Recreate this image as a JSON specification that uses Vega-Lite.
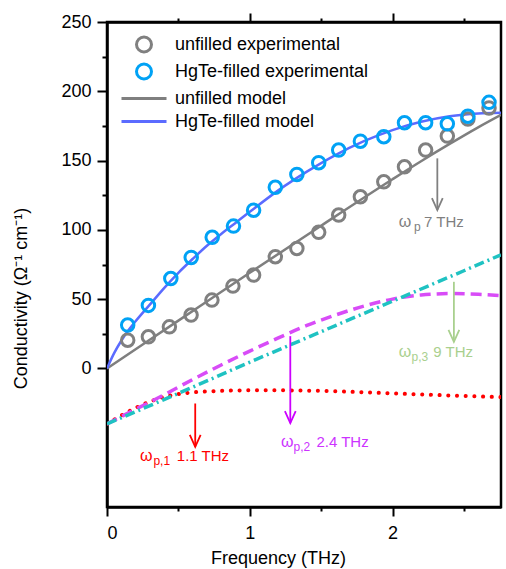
{
  "$schema": "https://vega.github.io/schema/vega-lite/v6.json",
  "width": 394,
  "height": 485,
  "autosize": {"type": "none"},
  "padding": {"left": 107, "top": 22, "right": 5, "bottom": 62},
  "background": "white",
  "config": {
    "view": {"stroke": "black", "strokeWidth": 2.5},
    "axis": {"domainColor": "black", "domainWidth": 2.5, "tickColor": "black", "tickWidth": 2, "labelFont": "Liberation Sans", "labelFontSize": 18, "labelColor": "black", "titleFont": "Liberation Sans", "titleFontSize": 18, "titleFontWeight": "normal", "titleColor": "black", "grid": false},
    "legend": {"labelFont": "Liberation Sans", "labelFontSize": 18, "labelColor": "black", "labelLimit": 400, "symbolStrokeWidth": 3, "symbolSize": 576, "rowPadding": -3, "labelOffset": 17.5},
    "text": {"font": "Liberation Sans"}
  },
  "datasets": {
    "exp": [
      {"f": 0.145, "v": 20.4, "series": "unfilled experimental"},
      {"f": 0.290, "v": 22.8, "series": "unfilled experimental"},
      {"f": 0.437, "v": 30.0, "series": "unfilled experimental"},
      {"f": 0.589, "v": 38.5, "series": "unfilled experimental"},
      {"f": 0.735, "v": 49.3, "series": "unfilled experimental"},
      {"f": 0.882, "v": 59.4, "series": "unfilled experimental"},
      {"f": 1.027, "v": 67.4, "series": "unfilled experimental"},
      {"f": 1.179, "v": 80.6, "series": "unfilled experimental"},
      {"f": 1.330, "v": 86.6, "series": "unfilled experimental"},
      {"f": 1.483, "v": 98.2, "series": "unfilled experimental"},
      {"f": 1.623, "v": 110.7, "series": "unfilled experimental"},
      {"f": 1.775, "v": 123.9, "series": "unfilled experimental"},
      {"f": 1.939, "v": 134.7, "series": "unfilled experimental"},
      {"f": 2.084, "v": 145.5, "series": "unfilled experimental"},
      {"f": 2.232, "v": 157.6, "series": "unfilled experimental"},
      {"f": 2.384, "v": 167.7, "series": "unfilled experimental"},
      {"f": 2.528, "v": 180.0, "series": "unfilled experimental"},
      {"f": 2.676, "v": 188.0, "series": "unfilled experimental"},
      {"f": 0.145, "v": 31.3, "series": "HgTe-filled experimental"},
      {"f": 0.290, "v": 45.5, "series": "HgTe-filled experimental"},
      {"f": 0.447, "v": 64.9, "series": "HgTe-filled experimental"},
      {"f": 0.590, "v": 80.1, "series": "HgTe-filled experimental"},
      {"f": 0.737, "v": 94.6, "series": "HgTe-filled experimental"},
      {"f": 0.886, "v": 102.7, "series": "HgTe-filled experimental"},
      {"f": 1.027, "v": 114.2, "series": "HgTe-filled experimental"},
      {"f": 1.179, "v": 130.7, "series": "HgTe-filled experimental"},
      {"f": 1.330, "v": 140.0, "series": "HgTe-filled experimental"},
      {"f": 1.483, "v": 148.5, "series": "HgTe-filled experimental"},
      {"f": 1.623, "v": 157.6, "series": "HgTe-filled experimental"},
      {"f": 1.775, "v": 164.0, "series": "HgTe-filled experimental"},
      {"f": 1.939, "v": 167.2, "series": "HgTe-filled experimental"},
      {"f": 2.084, "v": 177.3, "series": "HgTe-filled experimental"},
      {"f": 2.232, "v": 177.3, "series": "HgTe-filled experimental"},
      {"f": 2.384, "v": 176.5, "series": "HgTe-filled experimental"},
      {"f": 2.528, "v": 182.0, "series": "HgTe-filled experimental"},
      {"f": 2.676, "v": 192.0, "series": "HgTe-filled experimental"}
    ],
    "model": [
      {"f": 0.0, "v": 0.0, "series": "unfilled model"},
      {"f": 0.5, "v": 34.5, "series": "unfilled model"},
      {"f": 1.0, "v": 69.0, "series": "unfilled model"},
      {"f": 1.5, "v": 103.0, "series": "unfilled model"},
      {"f": 2.0, "v": 136.5, "series": "unfilled model"},
      {"f": 2.2, "v": 149.5, "series": "unfilled model"},
      {"f": 2.4, "v": 162.0, "series": "unfilled model"},
      {"f": 2.6, "v": 174.0, "series": "unfilled model"},
      {"f": 2.76, "v": 183.0, "series": "unfilled model"},
      {"f": 0.0, "v": 0.0, "series": "HgTe-filled model"},
      {"f": 0.05, "v": 11.0, "series": "HgTe-filled model"},
      {"f": 0.1, "v": 20.0, "series": "HgTe-filled model"},
      {"f": 0.15, "v": 27.5, "series": "HgTe-filled model"},
      {"f": 0.2, "v": 34.0, "series": "HgTe-filled model"},
      {"f": 0.3, "v": 46.0, "series": "HgTe-filled model"},
      {"f": 0.4, "v": 58.0, "series": "HgTe-filled model"},
      {"f": 0.5, "v": 69.0, "series": "HgTe-filled model"},
      {"f": 0.6, "v": 79.0, "series": "HgTe-filled model"},
      {"f": 0.7, "v": 88.5, "series": "HgTe-filled model"},
      {"f": 0.8, "v": 97.0, "series": "HgTe-filled model"},
      {"f": 0.9, "v": 105.0, "series": "HgTe-filled model"},
      {"f": 1.0, "v": 113.0, "series": "HgTe-filled model"},
      {"f": 1.2, "v": 128.5, "series": "HgTe-filled model"},
      {"f": 1.4, "v": 142.0, "series": "HgTe-filled model"},
      {"f": 1.6, "v": 154.0, "series": "HgTe-filled model"},
      {"f": 1.8, "v": 164.0, "series": "HgTe-filled model"},
      {"f": 2.0, "v": 172.0, "series": "HgTe-filled model"},
      {"f": 2.2, "v": 178.0, "series": "HgTe-filled model"},
      {"f": 2.4, "v": 182.0, "series": "HgTe-filled model"},
      {"f": 2.6, "v": 184.0, "series": "HgTe-filled model"},
      {"f": 2.76, "v": 184.5, "series": "HgTe-filled model"}
    ],
    "comp1": [
      {"f": 0.0, "v": -40.0}, {"f": 0.1, "v": -34.0}, {"f": 0.2, "v": -28.5}, {"f": 0.3, "v": -24.0},
      {"f": 0.4, "v": -20.5}, {"f": 0.5, "v": -18.5}, {"f": 0.6, "v": -17.3}, {"f": 0.8, "v": -16.2},
      {"f": 1.0, "v": -15.8}, {"f": 1.2, "v": -15.8}, {"f": 1.4, "v": -16.0}, {"f": 1.6, "v": -16.5},
      {"f": 1.8, "v": -17.2}, {"f": 2.0, "v": -18.0}, {"f": 2.2, "v": -18.8}, {"f": 2.4, "v": -19.5},
      {"f": 2.6, "v": -20.2}, {"f": 2.76, "v": -20.7}
    ],
    "comp2": [
      {"f": 0.0, "v": -40.0}, {"f": 0.2, "v": -29.5}, {"f": 0.4, "v": -19.0}, {"f": 0.6, "v": -8.0},
      {"f": 0.8, "v": 2.5}, {"f": 1.0, "v": 12.5}, {"f": 1.2, "v": 22.0}, {"f": 1.4, "v": 31.0},
      {"f": 1.6, "v": 38.5}, {"f": 1.8, "v": 45.0}, {"f": 2.0, "v": 50.0}, {"f": 2.2, "v": 53.0},
      {"f": 2.4, "v": 54.0}, {"f": 2.6, "v": 53.5}, {"f": 2.76, "v": 52.5}
    ],
    "comp3": [
      {"f": 0.0, "v": -40.0}, {"f": 0.5, "v": -18.0}, {"f": 1.0, "v": 4.5}, {"f": 1.5, "v": 26.5},
      {"f": 2.0, "v": 48.5}, {"f": 2.5, "v": 70.5}, {"f": 2.76, "v": 82.0}
    ],
    "arrows": [
      {"ann": "p", "f": 2.314, "v1": 151.6, "v2": 114.3},
      {"ann": "p3", "f": 2.43, "v1": 62.5, "v2": 19.2},
      {"ann": "p2", "f": 1.284, "v1": 23.3, "v2": -39.5},
      {"ann": "p1", "f": 0.618, "v1": -25.3, "v2": -56.6}
    ],
    "labels": [
      {"ann": "p", "piece": "omega", "text": "ω", "f": 2.044, "v": 102.2},
      {"ann": "p", "piece": "sub", "text": "p", "f": 2.151, "v": 102.2},
      {"ann": "p", "piece": "rest", "text": "7 THz", "f": 2.221, "v": 102.2},
      {"ann": "p3", "piece": "omega", "text": "ω", "f": 2.044, "v": 8.2},
      {"ann": "p3", "piece": "sub", "text": "p,3", "f": 2.133, "v": 8.2},
      {"ann": "p3", "piece": "rest", "text": "9 THz", "f": 2.286, "v": 8.2},
      {"ann": "p2", "piece": "omega", "text": "ω", "f": 1.219, "v": -56.6},
      {"ann": "p2", "piece": "sub", "text": "p,2", "f": 1.307, "v": -56.6},
      {"ann": "p2", "piece": "rest", "text": "2.4 THz", "f": 1.467, "v": -56.6},
      {"ann": "p1", "piece": "omega", "text": "ω", "f": 0.232, "v": -66.7},
      {"ann": "p1", "piece": "sub", "text": "p,1", "f": 0.325, "v": -66.7},
      {"ann": "p1", "piece": "rest", "text": "1.1 THz", "f": 0.489, "v": -66.7}
    ]
  },
  "resolve": {"scale": {"color": "independent", "shape": "independent"}, "axis": {"x": "independent"}},
  "layer": [
    {
      "data": {"name": "comp1"},
      "mark": {"type": "line", "color": "#ff0000", "strokeWidth": 4, "strokeDash": [0.1, 8.6], "strokeCap": "round", "interpolate": "monotone", "clip": true},
      "encoding": {
        "x": {"field": "f", "type": "quantitative", "scale": {"domain": [0, 2.76], "nice": false, "zero": false},
          "axis": {"orient": "top", "values": [0.5, 1, 1.5, 2, 2.5], "labels": false, "title": null,
            "tickSize": {"condition": {"test": "datum.value % 1 === 0", "value": 9}, "value": 4}}},
        "y": {"field": "v", "type": "quantitative", "scale": {"domain": [-100, 250], "nice": false, "zero": false},
          "axis": {"values": [0, 25, 50, 75, 100, 125, 150, 175, 200, 225, 250],
            "labelExpr": "datum.value % 50 === 0 ? format(datum.value, 'd') : ''",
            "tickSize": {"condition": {"test": "datum.value % 50 === 0", "value": 10}, "value": 5},
            "labelPadding": 6,
            "title": "Conductivity (Ω⁻¹ cm⁻¹)", "titleX": -81, "titleY": 276, "titleAngle": -90, "titleAlign": "center", "titleBaseline": "alphabetic"}}
      }
    },
    {
      "data": {"name": "comp2"},
      "mark": {"type": "line", "color": "#d84cf7", "strokeWidth": 3.5, "strokeDash": [11, 6], "interpolate": "monotone", "clip": true},
      "encoding": {
        "x": {"field": "f", "type": "quantitative", "axis": null},
        "y": {"field": "v", "type": "quantitative"}
      }
    },
    {
      "data": {"name": "comp3"},
      "mark": {"type": "line", "color": "#1fc2c2", "strokeWidth": 3.5, "strokeDash": [10, 4, 2, 4], "interpolate": "monotone", "clip": true},
      "encoding": {
        "x": {"field": "f", "type": "quantitative", "axis": null},
        "y": {"field": "v", "type": "quantitative"}
      }
    },
    {
      "layer": [
        {
          "data": {"name": "model"},
          "mark": {"type": "line", "strokeWidth": 2.5, "interpolate": "monotone", "clip": true},
          "encoding": {
            "x": {"field": "f", "type": "quantitative",
              "axis": {"values": [0, 0.5, 1, 1.5, 2, 2.5], "labelExpr": "datum.value % 1 === 0 ? format(datum.value, 'd') : ''",
                "tickSize": {"condition": {"test": "datum.value % 1 === 0", "value": 9}, "value": 4},
                "labelPadding": 8,
                "title": "Frequency (THz)", "titleX": 171, "titleY": 56, "titleAlign": "center", "titleBaseline": "alphabetic"}},
            "y": {"field": "v", "type": "quantitative"},
            "color": {"field": "series", "type": "nominal",
              "scale": {"domain": ["unfilled experimental", "HgTe-filled experimental", "unfilled model", "HgTe-filled model"],
                "range": ["#808080", "#00a2f5", "#7f7f7f", "#5b6bff"]},
              "legend": {"title": null, "orient": "none", "legendX": 23.5, "legendY": 9, "symbolSize": 576}}
          }
        },
        {
          "data": {"name": "exp"},
          "mark": {"type": "point", "filled": false, "strokeWidth": 3, "size": 400, "opacity": 1},
          "encoding": {
            "x": {"field": "f", "type": "quantitative"},
            "y": {"field": "v", "type": "quantitative"},
            "color": {"field": "series", "type": "nominal",
              "scale": {"domain": ["unfilled experimental", "HgTe-filled experimental", "unfilled model", "HgTe-filled model"],
                "range": ["#808080", "#00a2f5", "#7f7f7f", "#5b6bff"]}},
            "shape": {"field": "series", "type": "nominal",
              "scale": {"domain": ["unfilled experimental", "HgTe-filled experimental", "unfilled model", "HgTe-filled model"],
                "range": ["M-0.625,0A0.625,0.625 0 1,0 0.625,0A0.625,0.625 0 1,0 -0.625,0Z", "M-0.625,0A0.625,0.625 0 1,0 0.625,0A0.625,0.625 0 1,0 -0.625,0Z", "M-1.875,0H1.875", "M-1.875,0H1.875"]},
              "legend": {"title": null, "orient": "none", "legendX": 23.5, "legendY": 9, "symbolSize": 576}},
            "order": {"field": "series", "sort": "descending"}
          }
        }
      ]
    },
    {
      "data": {"name": "arrows"},
      "mark": {"type": "rule", "strokeWidth": 1.8},
      "encoding": {
        "x": {"field": "f", "type": "quantitative", "axis": null},
        "y": {"field": "v1", "type": "quantitative"},
        "y2": {"field": "v2"},
        "color": {"field": "ann", "type": "nominal", "legend": null,
          "scale": {"domain": ["p", "p3", "p2", "p1"], "range": ["#808080", "#a9d08e", "#cc00ff", "#ff0000"]}}
      }
    },
    {
      "data": {"name": "arrows"},
      "mark": {"type": "point", "shape": "M-0.45,-1L0,0L0.45,-1", "filled": false, "strokeWidth": 1.8, "size": 576, "opacity": 1},
      "encoding": {
        "x": {"field": "f", "type": "quantitative", "axis": null},
        "y": {"field": "v2", "type": "quantitative"},
        "color": {"field": "ann", "type": "nominal", "legend": null,
          "scale": {"domain": ["p", "p3", "p2", "p1"], "range": ["#808080", "#a9d08e", "#cc00ff", "#ff0000"]}}
      }
    },
    {
      "data": {"name": "labels"},
      "transform": [{"filter": "datum.piece === 'omega'"}],
      "mark": {"type": "text", "fontSize": 16, "align": "left", "baseline": "alphabetic"},
      "encoding": {
        "x": {"field": "f", "type": "quantitative", "axis": null},
        "y": {"field": "v", "type": "quantitative"},
        "text": {"field": "text"},
        "color": {"field": "ann", "type": "nominal", "legend": null,
          "scale": {"domain": ["p", "p3", "p2", "p1"], "range": ["#808080", "#a9d08e", "#cc33ff", "#ff0000"]}}
      }
    },
    {
      "data": {"name": "labels"},
      "transform": [{"filter": "datum.piece === 'sub'"}],
      "mark": {"type": "text", "fontSize": 12, "align": "left", "baseline": "alphabetic", "dy": 4},
      "encoding": {
        "x": {"field": "f", "type": "quantitative", "axis": null},
        "y": {"field": "v", "type": "quantitative"},
        "text": {"field": "text"},
        "color": {"field": "ann", "type": "nominal", "legend": null,
          "scale": {"domain": ["p", "p3", "p2", "p1"], "range": ["#808080", "#a9d08e", "#cc33ff", "#ff0000"]}}
      }
    },
    {
      "data": {"name": "labels"},
      "transform": [{"filter": "datum.piece === 'rest'"}],
      "mark": {"type": "text", "fontSize": 15, "align": "left", "baseline": "alphabetic"},
      "encoding": {
        "x": {"field": "f", "type": "quantitative", "axis": null},
        "y": {"field": "v", "type": "quantitative"},
        "text": {"field": "text"},
        "color": {"field": "ann", "type": "nominal", "legend": null,
          "scale": {"domain": ["p", "p3", "p2", "p1"], "range": ["#808080", "#a9d08e", "#cc33ff", "#ff0000"]}}
      }
    }
  ]
}
